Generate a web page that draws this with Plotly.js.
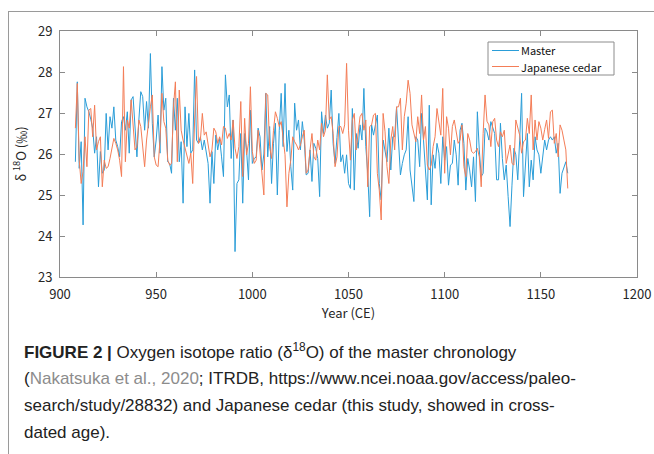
<!DOCTYPE html>
<html>
<head>
<meta charset="utf-8">
<script src="https://cdn.plot.ly/plotly-3.0.1.min.js"></script>
<style>
  html, body { margin: 0; padding: 0; background: #fff; overflow: hidden; }
  #wrap { position: relative; width: 654px; height: 454px; }
  #chart { position: absolute; left: 0; top: 0; width: 654px; height: 454px; }
  #frame { position: absolute; left: 8px; top: 11px; width: 700px; height: 500px;
           border-top: 1px solid #9a9a9a; border-left: 1px solid #9a9a9a; pointer-events: none; }
</style>
</head>
<body>
<div id="wrap">
  <div id="chart"></div>
  <div id="frame"></div>
</div>
<script>
// First year of both series (annual values, CE)
const startYear = 908;

// Master chronology d18O (permil), one value per year from startYear
const master = [
  25.81, 27.76, 25.65, 26.30, 24.27, 27.36, 27.15, 27.03, 26.85, 26.63,
  26.02, 26.42, 25.20, 26.06, 25.53, 25.61, 26.99, 26.10, 26.91, 26.63,
  27.15, 26.34, 26.18, 25.93, 26.79, 26.91, 26.58, 27.03, 26.02, 27.32,
  27.40, 26.67, 25.93, 26.83, 27.52, 27.40, 26.58, 27.28,
  26.63, 28.45, 26.75, 25.93, 26.34, 26.95, 26.02, 28.13, 27.07, 27.36,
  25.81, 25.77, 25.53, 27.36, 26.58, 27.36, 25.81, 26.30, 24.80, 27.15,
  26.18, 26.99, 26.02, 26.10, 28.05, 26.34, 26.26, 26.42, 26.10, 26.34,
  26.02, 25.77, 24.80, 26.06, 25.28, 26.46, 26.10, 26.38, 25.93, 25.45,
  27.93, 27.15, 27.44, 25.89, 26.83, 23.62, 25.28, 25.37, 26.50, 24.80,
  26.50, 26.10, 25.37, 27.07, 25.77, 25.89, 25.93, 26.63, 26.42, 25.61,
  26.00, 27.48, 25.93, 26.67, 25.28, 26.26, 26.75, 25.00, 26.58, 27.48,
  26.18, 27.72, 26.06, 26.58, 25.69, 25.12, 27.24, 26.58, 26.83,
  26.10, 26.79, 26.34, 25.49, 25.53, 26.10, 25.33, 26.26, 26.14, 25.89,
  24.96, 27.03, 26.50, 26.95, 26.63, 26.75, 27.56, 26.26, 25.77, 26.40,
  26.99, 25.81, 25.98, 25.53, 25.98, 25.28, 25.16, 27.11, 25.12, 26.50,
  26.14, 26.71, 26.34, 27.60, 26.18, 25.53, 24.47, 26.71, 26.46,
  26.71, 26.95, 25.28, 24.88, 26.34, 26.10, 25.81, 26.63, 25.61, 26.42,
  26.42, 27.15, 26.26, 25.49, 25.77, 25.98, 26.10, 26.91, 25.61, 25.20,
  24.84, 26.42, 26.34, 25.69, 26.99, 26.34, 25.45, 24.88, 27.19, 24.76,
  25.98, 25.65, 26.26, 26.02, 25.28, 26.42, 25.85, 26.18, 25.24,
  25.73, 25.77, 26.34, 25.98, 25.24, 26.58, 26.75, 26.26, 25.12, 25.89,
  25.61, 25.20, 25.93, 24.84, 27.03, 26.10, 25.45, 25.53, 26.63, 26.54,
  26.34, 26.79, 26.67, 26.50, 25.37, 25.37, 26.75, 25.89, 25.37, 25.73,
  24.96, 24.23, 25.24, 26.14, 25.98, 25.37, 26.34, 27.48, 24.96,
  25.61, 26.50, 25.20, 25.85, 25.37, 26.42, 26.10, 25.98, 25.53, 26.00,
  26.34, 26.10, 26.34, 26.42, 26.34, 26.42, 26.02, 26.26, 25.04, 25.53,
  25.69, 25.81, 25.53
];

// Japanese cedar d18O (permil), one value per year from startYear
const cedar = [
  26.63, 27.72, 25.85, 25.28, 25.57, 26.42, 25.69, 27.07, 27.11, 26.42,
  27.19, 26.10, 26.30, 26.42, 25.20, 25.85, 25.65, 25.69, 25.89, 26.18,
  26.38, 26.26, 26.10, 25.85, 25.45, 28.13, 25.81, 26.83, 26.63, 27.32,
  26.75, 26.10, 26.18, 26.83, 26.67, 26.18, 25.69, 26.34,
  26.83, 27.15, 27.44, 25.93, 25.73, 25.69, 26.34, 27.48, 26.79, 26.63,
  25.85, 25.73, 25.77, 27.15, 27.76, 25.81, 27.56, 26.58, 26.34, 26.14,
  26.00, 25.77, 26.02, 25.28, 26.83, 27.89, 26.26, 26.34, 26.99, 26.46,
  26.54, 26.18, 25.93, 26.10, 26.63, 26.54, 26.26, 26.42, 26.22, 26.67,
  26.63, 26.38, 26.50, 26.34, 26.83, 26.14, 25.89, 26.18, 27.28, 25.45,
  26.87, 25.98, 26.26, 27.64, 26.06, 25.77, 25.85, 26.58, 26.10, 25.60,
  25.00, 27.48, 27.44, 26.18, 25.89, 26.58, 27.03, 26.87, 26.67, 26.79,
  26.42, 25.98, 24.71, 25.53, 25.85, 26.42, 26.30, 26.22, 26.10,
  26.22, 26.42, 26.58, 25.53, 25.61, 26.10, 26.50, 25.93, 25.85, 26.34,
  26.10, 26.75, 26.42, 26.58, 27.93, 26.83, 26.91, 26.50, 25.69, 25.93,
  26.67, 26.67, 26.50, 26.71, 28.21, 26.58, 25.85, 26.83, 26.99, 26.10,
  26.50, 26.91, 26.99, 26.58, 26.83, 25.20, 26.67, 26.71, 26.95,
  26.99, 25.53, 25.12, 24.39, 26.99, 26.54, 25.69, 25.28, 26.34, 26.67,
  26.10, 27.15, 27.15, 27.36, 26.10, 26.91, 27.24, 27.80, 27.48, 26.71,
  26.50, 26.30, 26.91, 26.50, 27.44, 26.34, 26.67, 25.73, 25.61, 25.73,
  26.18, 26.42, 27.11, 26.75, 26.46, 27.60, 25.53, 26.91, 26.63,
  25.98, 26.67, 26.83, 26.50, 26.26, 26.34, 26.71, 25.69, 25.45, 26.50,
  26.34, 26.06, 26.02, 26.06, 26.14, 25.93, 25.20, 26.50, 27.44, 26.80,
  26.71, 26.18, 26.79, 26.87, 26.34, 26.18, 26.54, 26.42, 26.58, 25.77,
  26.02, 26.22, 25.77, 25.73, 26.83, 26.67, 26.46, 26.02, 26.30,
  26.34, 26.87, 26.50, 27.44, 26.10, 26.83, 26.34, 26.79, 26.63, 26.34,
  26.60, 26.83, 26.38, 27.03, 27.07, 26.26, 26.50, 25.93, 26.71, 26.58,
  26.34, 26.10, 25.16
];

const seriesNames = ["Master", "Japanese cedar"];
const seriesColors = ["#2a9dd8", "#f47d57"];
const xTicks = [900, 950, 1000, 1050, 1100, 1150, 1200];
const yTicks = [23, 24, 25, 26, 27, 28, 29];

const masterYears = master.map((_, i) => startYear + i);
const cedarYears = cedar.map((_, i) => startYear + i);

const gothic = "Noto Sans CJK JP, DejaVu Sans, sans-serif";
const tickFont = { family: gothic, size: 13, color: "#262626" };
const capFont = { family: "Liberation Sans, Arial, sans-serif", size: 17, color: "#222222" };

const traces = [
  { x: masterYears, y: master, name: seriesNames[0], type: "scatter", mode: "lines",
    line: { color: seriesColors[0], width: 1 }, showlegend: false },
  { x: cedarYears, y: cedar, name: seriesNames[1], type: "scatter", mode: "lines",
    line: { color: seriesColors[1], width: 1 }, showlegend: false }
];

const pxY = p => (277 - p) / 246;
const pxX = p => (p - 60) / 577;

const captionLines = [
  "<b>FIGURE 2 |</b> Oxygen isotope ratio (δ<sup>18</sup>O) of the master chronology",
  "(<span style='color:#8c8c8c'>Nakatsuka et al., 2020</span>; ITRDB, https://www.ncei.noaa.gov/access/paleo-",
  "search/study/28832) and Japanese cedar (this study, showed in cross-",
  "dated age)."
];
const captionY = [351, 378, 405, 432];

// manual legend (box, line samples, labels)
const legendRows = [50.5, 66.5];
const shapes = [
  { type: "rect", xref: "paper", yref: "paper", x0: pxX(488), x1: pxX(614), y0: pxY(42), y1: pxY(75),
    line: { color: "#8c8c8c", width: 1 }, fillcolor: "#ffffff", layer: "above" }
].concat(legendRows.map((r, i) => ({
    type: "line", xref: "paper", yref: "paper", x0: pxX(492), x1: pxX(519), y0: pxY(r), y1: pxY(r),
    line: { color: seriesColors[i], width: 1 }, layer: "above" })));

const annotations = captionLines.map((t, i) => ({
    text: t, xref: "paper", yref: "paper", x: pxX(22), y: pxY(captionY[i]),
    xanchor: "left", yanchor: "middle", showarrow: false, align: "left", font: capFont
  })).concat(legendRows.map((r, i) => ({
    text: seriesNames[i], xref: "paper", yref: "paper", x: pxX(520), y: pxY(r),
    xanchor: "left", yanchor: "middle", showarrow: false, align: "left",
    borderpad: 0, font: { family: gothic, size: 11, color: "#111" }
  })));

const layout = {
  width: 654, height: 454,
  margin: { l: 60, r: 17, t: 31, b: 177 },
  paper_bgcolor: "#ffffff", plot_bgcolor: "#ffffff",
  showlegend: false,
  xaxis: {
    range: [900, 1200], tickvals: xTicks, ticktext: xTicks.map(String),
    ticks: "inside", ticklen: 5, tickcolor: "#8a8a8a", tickwidth: 1,
    showline: true, linecolor: "#8a8a8a", linewidth: 1, mirror: "ticks",
    showgrid: false, zeroline: false, tickfont: tickFont, ticklabelstandoff: 5,
    title: { text: "Year (CE)", font: tickFont, standoff: 2 }
  },
  yaxis: {
    range: [23, 29], tickvals: yTicks, ticktext: yTicks.map(String),
    ticks: "inside", ticklen: 5, tickcolor: "#8a8a8a", tickwidth: 1,
    showline: true, linecolor: "#8a8a8a", linewidth: 1, mirror: "ticks",
    showgrid: false, zeroline: false, tickfont: tickFont, ticklabelstandoff: 4,
    title: { text: "δ <sup>18</sup>O (‰)", font: tickFont, standoff: 8 }
  },
  shapes: shapes,
  annotations: annotations
};

Plotly.newPlot("chart", traces, layout, { displayModeBar: false, staticPlot: true });
</script>
</body>
</html>
